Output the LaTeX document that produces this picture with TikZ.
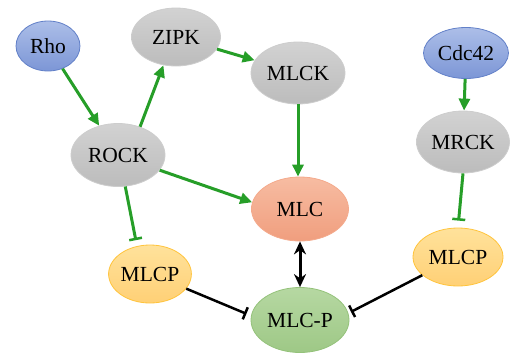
\documentclass[tikz,border=0pt]{standalone}
\usepackage{fontspec}
\setmainfont{Liberation Serif}
\usetikzlibrary{arrows.meta,shapes.geometric}
\definecolor{bluetop}{RGB}{172,190,232}
\definecolor{bluebot}{RGB}{124,150,214}
\definecolor{bluebd}{RGB}{98,128,200}
\definecolor{graytop}{RGB}{210,210,210}
\definecolor{graybot}{RGB}{188,188,188}
\definecolor{graybd}{RGB}{205,205,205}
\definecolor{orgtop}{RGB}{247,188,162}
\definecolor{orgbot}{RGB}{240,158,126}
\definecolor{orgbd}{RGB}{244,170,140}
\definecolor{yeltop}{RGB}{255,226,155}
\definecolor{yelbot}{RGB}{255,208,118}
\definecolor{yelbd}{RGB}{255,196,60}
\definecolor{grntop}{RGB}{182,216,162}
\definecolor{grnbot}{RGB}{158,200,134}
\definecolor{grnbd}{RGB}{148,194,122}
\definecolor{actgreen}{RGB}{38,158,40}
\begin{document}
\begin{tikzpicture}[x=1pt,y=-1pt,
  base/.style={ellipse, inner sep=0pt, font=\fontsize{21.5}{25}\selectfont, line width=0.8pt},
  bluenode/.style={base, draw=bluebd, top color=bluetop, bottom color=bluebot},
  graynode/.style={base, draw=graybd, top color=graytop, bottom color=graybot},
  orgnode/.style={base, draw=orgbd, top color=orgtop, bottom color=orgbot},
  yelnode/.style={base, draw=yelbd, top color=yeltop, bottom color=yelbot},
  grnnode/.style={base, draw=grnbd, top color=grntop, bottom color=grnbot},
  act/.style={draw=actgreen, line width=3pt, -{Triangle[length=12pt,width=11pt]}},
  inh/.style={draw=actgreen, line width=3pt, -{Bar[width=13pt,line width=2.5pt]}},
  inhk/.style={draw=black, line width=2.5pt, -{Bar[width=13pt,line width=2.5pt]}},
  dbl/.style={draw=black, line width=3pt, {Stealth[length=13pt,width=12pt]}-{Stealth[length=13pt,width=12pt]}},
]
\useasboundingbox (0,0) rectangle (515,354);
\node[bluenode, minimum width=64pt, minimum height=50pt] (rho) at (48,46) {Rho};
\node[graynode, minimum width=89pt, minimum height=58pt] (zipk) at (176,37) {ZIPK};
\node[graynode, minimum width=94pt, minimum height=62pt] (mlck) at (298,73) {MLCK};
\node[bluenode, minimum width=85pt, minimum height=51pt] (cdc) at (466,53) {Cdc42};
\node[graynode, minimum width=94pt, minimum height=63pt] (rock) at (118,155) {ROCK};
\node[graynode, minimum width=93pt, minimum height=62pt] (mrck) at (463,142) {MRCK};
\node[orgnode, minimum width=97pt, minimum height=64pt] (mlc) at (300,209) {MLC};
\node[yelnode, minimum width=78pt, minimum height=58pt] (mlcpa) at (150,274) {MLCP};
\node[yelnode, minimum width=90pt, minimum height=58pt] (mlcpb) at (458,257) {MLCP};
\node[grnnode, minimum width=98pt, minimum height=65pt] (mlcp) at (300,320) {MLC-P};

\draw[act] (rho) -- (rock);
\draw[act] (rock.52) -- (zipk.-114);
\draw[act] (zipk) -- (mlck);
\draw[act] (mlck.south) -- (mlck.south |- mlc.north);
\draw[act] (rock.-20) -- (mlc.172);
\draw[inh, shorten >=6pt] (rock.-77) -- (mlcpa.115);
\draw[act] (cdc) -- (mrck);
\draw[inh, shorten >=7pt] (mrck.south) -- (mlcpb.north);
\draw[dbl] (mlc.south) -- (mlcp.north);
\draw[inhk, shorten >=5pt] (mlcpa.-22) -- (mlcp.175);
\draw[inhk, shorten >=3pt] (mlcpb.-153) -- (mlcp.8);
\end{tikzpicture}
\end{document}
